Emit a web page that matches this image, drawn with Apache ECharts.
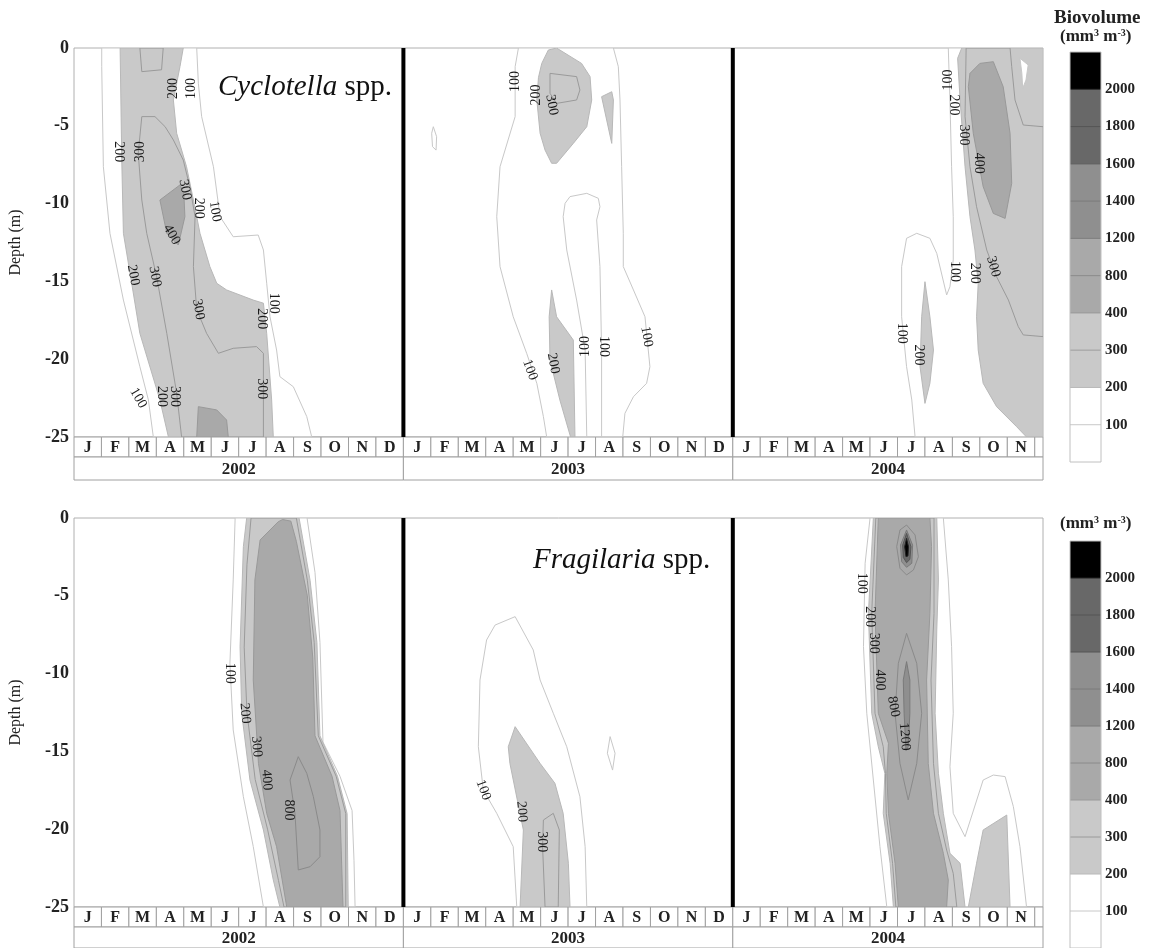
<!DOCTYPE html>
<html>
<head>
<meta charset="utf-8">
<script src="https://cdn.jsdelivr.net/npm/echarts@6/dist/echarts.min.js"></script>
<style>
  html, body { margin: 0; padding: 0; background: #fff; }
  #chart { width: 1153px; height: 948px; }
</style>
</head>
<body>
<div id="chart"></div>
<script>
// x = months since Jan 2002, y = depth (m)
const MONTHS = ['J', 'F', 'M', 'A', 'M', 'J', 'J', 'A', 'S', 'O', 'N', 'D'];
const YEARS = ['2002', '2003', '2004'];
const X_MAX = 35.3;
const YEAR_BREAKS = [12, 24];
const LEGEND_TICKS = [100, 200, 300, 400, 800, 1200, 1400, 1600, 1800, 2000];

// ---- Cyclotella spp. contours ----
const cyc02_100 = [[1.01, 0], [1.01, -1.2], [1.07, -7.63], [1.31, -11.91], [1.8, -16.2], [2.4, -20.48], [2.71, -22.62], [2.89, -25],
  [8.66, -25], [8.48, -23.69], [7.99, -21.77], [7.5, -21.12], [7.38, -19.41], [7.14, -17.27], [7.02, -15.12], [6.9, -12.98],
  [6.71, -12.02], [5.8, -12.13], [5.32, -10.84], [5.08, -7.63], [4.65, -4.41], [4.53, -2.27], [4.47, 0]];
const cyc02_200 = [[1.68, 0], [1.74, -7.2], [1.8, -11.91], [2.1, -15.1], [2.4, -18.34], [3.13, -22.62], [3.44, -25],
  [7.26, -25], [7.2, -22.62], [7.02, -18.34], [6.9, -16.4], [6.53, -16.2], [5.56, -15.55], [5.2, -15.12], [4.95, -14.05],
  [4.59, -11.91], [4.35, -9.77], [4.1, -7.63], [3.74, -5.48], [3.62, -3.34], [3.86, -1.2], [3.98, 0]];
const cyc02_300a = [[2.4, 0], [2.47, -1.52], [3.19, -1.4], [3.25, 0]];
const cyc02_300b = [[2.47, -4.41], [2.34, -6.77], [2.47, -9.77], [2.65, -11.91], [3.01, -14.7], [3.38, -18.34], [3.74, -22.19], [3.92, -25],
  [6.9, -25], [6.9, -19.62], [6.65, -19.19], [5.8, -19.3], [5.26, -19.62], [4.83, -18.34], [4.47, -16.8], [4.35, -14.05],
  [4.41, -10.84], [4.23, -9.0], [3.98, -7.2], [3.62, -5.91], [3.32, -5.06], [2.95, -4.41]];
const cyc02_400a = [[3.86, -8.8], [3.13, -9.77], [3.38, -11.91], [3.8, -12.66], [4.04, -10.84], [4.0, -9.3]];
const cyc02_400b = [[4.53, -23.05], [5.2, -23.26], [5.56, -23.91], [5.62, -25], [4.47, -25]];

const cyc03_100 = [[16.19, 0], [16.07, -1.2], [16.07, -4.41], [15.52, -7.63], [15.4, -10.84], [15.52, -14.05], [16.0, -17.27],
  [16.49, -19.62], [16.86, -21.55], [17.1, -23.69], [17.22, -25],
  [19.99, -25], [20.07, -23.48], [20.38, -22.41], [20.86, -21.55], [20.98, -20.48], [20.8, -17.27], [20.38, -15.55],
  [20.01, -14.05], [20.01, -11.91], [19.95, -7.63], [19.89, -3.34], [19.83, -1.2], [19.65, 0]];
const cyc03_hole = [[18.07, -9.55], [18.68, -9.34], [19.1, -9.66], [19.16, -10.2], [19.04, -11.05], [19.16, -14.05], [19.22, -19.41],
  [19.22, -25], [18.68, -25], [18.62, -19.41], [18.31, -16.2], [17.95, -12.98], [17.82, -10.84], [17.89, -9.98]];
const cyc03_loop = [[13.09, -5.06], [13.21, -5.7], [13.19, -6.56], [13.06, -6.34], [13.03, -5.48]];
const cyc03_200a = [[17.04, -0.99], [17.28, -0.13], [17.58, 0], [18.49, -0.99], [18.8, -1.84], [18.86, -3.34], [18.68, -5.06],
  [18.19, -6.13], [17.58, -7.41], [17.4, -7.41], [17.16, -6.56], [16.98, -5.48], [16.86, -3.34], [16.92, -1.9]];
const cyc03_300 = [[17.34, -1.63], [18.31, -1.84], [18.43, -2.7], [18.31, -3.34], [17.58, -3.56], [17.34, -2.91]];
const cyc03_200b = [[19.22, -3.13], [19.59, -2.81], [19.65, -3.34], [19.59, -6.13]];
const cyc03_200c = [[17.4, -15.55], [17.58, -17.27], [18.19, -18.77], [18.25, -25], [18.09, -25], [17.7, -22.62], [17.34, -20.05], [17.31, -17.27]];

const cyc04_100 = [[31.85, 0], [31.91, -3.34], [31.97, -7.63], [32.03, -10.84], [32.03, -13.62], [31.91, -15.34], [31.79, -15.87],
  [31.43, -13.2], [31.18, -12.23], [30.7, -11.91], [30.33, -12.23], [30.15, -14.05], [30.15, -17.27], [30.33, -20.48],
  [30.52, -22.62], [30.64, -25], [35.31, -25], [35.31, 0]];
const cyc04_200 = [[32.34, 0], [32.19, -0.66], [32.28, -3.34], [32.46, -7.63], [32.64, -10.84], [32.82, -12.98], [32.94, -15.12],
  [32.88, -17.27], [32.94, -19.41], [33.12, -21.55], [33.61, -23.05], [34.34, -24.34], [34.7, -25], [35.31, -25], [35.31, 0]];
const cyc04_hole = [[34.46, -0.66], [34.76, -1.09], [34.68, -2.06], [34.56, -2.59], [34.53, -1.63]];
const cyc04_300 = [[32.5, 0], [32.46, -4.41], [32.64, -7.63], [32.88, -10.2], [33.25, -12.98], [33.61, -14.7], [34.04, -16.2],
  [34.4, -17.91], [34.58, -18.44], [35.31, -18.55], [35.31, -5.06], [34.58, -4.95], [34.28, -3.34], [34.16, -1.2], [34.1, 0]];
const cyc04_400 = [[33.0, -0.99], [33.49, -0.88], [33.85, -2.49], [34.1, -5.48], [34.16, -8.7], [33.92, -10.95], [33.49, -10.63],
  [33.12, -8.91], [32.76, -5.48], [32.58, -2.49], [32.64, -1.63]];
const cyc04_200b = [[31.0, -15.02], [31.18, -17.27], [31.31, -19.41], [31.18, -21.55], [31.0, -22.84], [30.82, -20.48], [30.88, -17.27]];

// [month, depth, text, rotation in degrees (90 = reads downward)]
const cycLabels = [
  [3.62, -2.6, '200', -90], [4.29, -2.6, '100', -90], [1.62, -6.66, '200', 90], [2.4, -6.66, '300', -90],
  [4.04, -9.1, '300', 80], [4.53, -10.3, '200', 90], [5.14, -10.5, '100', 80], [3.56, -12.0, '400', 60],
  [2.16, -14.6, '200', 80], [2.95, -14.7, '300', 80], [4.53, -16.8, '300', 80], [7.26, -16.4, '100', 90],
  [6.84, -17.4, '200', 90], [6.84, -21.9, '300', 90], [2.34, -22.5, '100', 60], [3.19, -22.4, '200', 90], [3.68, -22.4, '300', 90],
  [16.07, -2.16, '100', -90], [16.86, -3.02, '200', -90], [17.4, -3.66, '300', 80], [16.61, -20.69, '100', 70],
  [17.46, -20.27, '200', 80], [18.62, -19.19, '100', -90], [19.28, -19.19, '100', 90], [20.86, -18.55, '100', 80],
  [31.85, -2.06, '100', -90], [32.03, -3.66, '200', 90], [32.4, -5.59, '300', 90], [32.94, -7.41, '400', 90],
  [32.1, -14.37, '100', 90], [32.82, -14.48, '200', 90], [33.49, -14.05, '300', 75], [30.15, -18.34, '100', 90], [30.76, -19.73, '200', 90]
];

// ---- Fragilaria spp. contours ----
const frg02_100 = [[5.87, 0], [5.8, -3.98], [5.68, -9.34], [5.8, -13.62], [6.17, -17.91], [6.53, -21.12], [6.9, -25],
  [10.24, -25], [10.2, -22], [10.13, -18.8], [9.69, -16.6], [9.07, -14.4], [8.96, -8], [8.78, -3.5], [8.49, 0]];
const frg02_200 = [[6.29, 0], [6.17, -1.84], [6.05, -8.27], [6.11, -12.55], [6.41, -16.84], [6.9, -20.05], [7.26, -23.26], [7.5, -25],
  [9.99, -25], [9.95, -19], [9.6, -16.6], [8.96, -14], [8.85, -8], [8.6, -4], [8.2, 0]];
const frg02_300 = [[6.45, 0], [6.3, -3], [6.2, -8.3], [6.3, -12.5], [6.6, -16.8], [7.05, -20], [7.45, -23.3], [7.65, -25],
  [9.9, -25], [9.9, -19], [9.55, -16.6], [8.9, -14], [8.75, -8], [8.5, -4], [8.1, 0]];
const frg02_400 = [[7.44, -0.24], [7.6, -0.1], [7.9, -0.2], [8.1, -1.5], [8.5, -5], [8.7, -9], [8.78, -14], [9.4, -16.6], [9.69, -18.8],
  [9.8, -25], [7.75, -25], [7.38, -21.12], [7.02, -18.98], [6.72, -15.77], [6.53, -10.41], [6.59, -3.98], [6.78, -1.41]];
const frg02_800 = [[8.17, -15.34], [8.48, -16.41], [8.72, -17.91], [8.96, -20.05], [8.96, -21.77], [8.6, -22.41], [8.17, -22.62],
  [8.05, -18.98], [7.87, -16.84]];

const frg03_100 = [[15.34, -6.88], [16.07, -6.34], [16.73, -8.48], [16.98, -10.41], [17.46, -12.55], [17.95, -14.7], [18.43, -17.91],
  [18.62, -21.12], [18.68, -25], [16.13, -25], [16.0, -21.12], [15.4, -18.98], [14.91, -17.48], [14.73, -14.7], [14.79, -10.41], [15.03, -7.84]];
const frg03_200 = [[16.07, -13.41], [16.98, -15.77], [17.52, -17.05], [17.82, -18.98], [18.01, -22.19], [18.07, -25], [16.25, -25],
  [16.37, -20.05], [15.88, -15.77], [15.82, -14.7]];
const frg03_300 = [[17.1, -19.41], [17.46, -18.98], [17.68, -20.05], [17.64, -25], [17.16, -25], [17.07, -21.12]];
const frg03_loop = [[19.53, -14.05], [19.71, -15.12], [19.62, -16.2], [19.43, -15.12]];

const frg04_100 = [[29.0, 0], [28.82, -2.91], [28.76, -8.27], [28.88, -12.55], [29.12, -16.84], [29.36, -21.12], [29.61, -25],
  [34.7, -25], [34.46, -21.12], [34.22, -18.55], [33.92, -16.62], [33.49, -16.52], [33.12, -16.84], [32.46, -20.48],
  [32.03, -18.98], [31.91, -15.98], [32.03, -12.55], [31.97, -8.27], [31.85, -3.98], [31.67, 0]];
const frg04_200 = [[29.12, 0], [28.94, -6.13], [29.06, -12.55], [29.3, -14.7], [29.54, -16.41], [29.48, -18.98], [29.73, -22.19], [29.85, -25],
  [32.46, -25], [32.28, -22.19], [31.91, -21.55], [31.67, -18.98], [31.49, -16.41], [31.37, -12.55], [31.43, -7.2], [31.49, -3.98], [31.43, 0]];
const frg04_200b = [[33.12, -20.05], [33.98, -19.09], [34.1, -25], [32.58, -25], [32.88, -22.19]];
const frg04_300 = [[29.21, 0], [29.06, -6.13], [29.18, -12.55], [29.48, -14.7], [29.56, -16.41], [29.59, -18.98], [29.82, -22.19], [29.94, -25],
  [32.16, -25], [32.03, -22.84], [31.79, -21.34], [31.49, -18.98], [31.31, -15.77], [31.22, -10.41], [31.33, -6.13], [31.33, 0]];
const frg04_400 = [[29.3, 0], [29.18, -6.13], [29.3, -12.55], [29.67, -14.48], [29.61, -16.41], [29.67, -18.98], [29.91, -22.19], [30.03, -25],
  [31.79, -25], [31.85, -23.26], [31.67, -21.55], [31.31, -18.98], [31.12, -15.77], [31.06, -10.41], [31.18, -6.13], [31.24, -1.84], [31.18, 0]];
const frg04_800a = [[30.33, -0.45], [30.64, -1.09], [30.76, -2.49], [30.58, -3.34], [30.33, -3.66], [30.09, -3.23], [29.97, -1.84], [30.09, -0.77]];
const frg04_1200a = [[30.33, -0.77], [30.55, -1.74], [30.52, -2.91], [30.33, -3.17], [30.15, -2.81], [30.11, -1.74]];
const frg04_1600 = [[30.33, -0.99], [30.49, -1.84], [30.45, -2.66], [30.33, -2.87], [30.21, -2.53], [30.19, -1.74]];
const frg04_2000 = [[30.33, -1.31], [30.4, -1.84], [30.38, -2.44], [30.31, -2.49], [30.26, -1.84]];
const frg04_800b = [[30.33, -7.41], [30.7, -9.34], [30.88, -12.55], [30.7, -15.77], [30.39, -18.12], [30.09, -15.77], [29.91, -12.55], [30.03, -9.34]];
const frg04_1200b = [[30.33, -9.23], [30.45, -10.41], [30.45, -12.55], [30.39, -14.7], [30.31, -14.95], [30.24, -12.55], [30.21, -10.41]];

const frgLabels = [
  [5.68, -9.98, '100', 90], [6.23, -12.55, '200', 85], [6.65, -14.7, '300', 85], [7.02, -16.84, '400', 85], [7.81, -18.77, '800', 90],
  [14.91, -17.48, '100', 70], [16.31, -18.87, '200', 85], [17.04, -20.8, '300', 90],
  [28.7, -4.2, '100', 90], [29.0, -6.34, '200', 90], [29.12, -8.05, '300', 90], [29.36, -10.41, '400', 90],
  [29.85, -12.13, '800', 80], [30.26, -14.05, '1200', 85]
];

// draw order, [level, polygon]
const CYC_CONTOURS = [
  [100, cyc02_100], [200, cyc02_200], [300, cyc02_300a], [300, cyc02_300b], [400, cyc02_400a], [400, cyc02_400b],
  [100, cyc03_100], [0, cyc03_hole], [100, cyc03_loop], [200, cyc03_200a], [300, cyc03_300], [200, cyc03_200b], [200, cyc03_200c],
  [100, cyc04_100], [200, cyc04_200], [100, cyc04_hole], [300, cyc04_300], [400, cyc04_400], [200, cyc04_200b]
];
const FRG_CONTOURS = [
  [100, frg02_100], [200, frg02_200], [300, frg02_300], [400, frg02_400], [800, frg02_800],
  [100, frg03_100], [200, frg03_200], [300, frg03_300], [100, frg03_loop],
  [100, frg04_100], [200, frg04_200], [200, frg04_200b], [300, frg04_300], [400, frg04_400],
  [800, frg04_800a], [1200, frg04_1200a], [1600, frg04_1600], [2000, frg04_2000], [800, frg04_800b], [1200, frg04_1200b]
];

const FILL = { 0: '#ffffff', 100: '#ffffff', 200: '#c9c9c9', 300: '#c9c9c9', 400: '#a9a9a9', 800: '#a9a9a9',
  1200: '#8f8f8f', 1400: '#8f8f8f', 1600: '#686868', 1800: '#686868', 2000: '#000000' };
const LINE = { 0: '#c8c8c8', 100: '#c8c8c8', 200: '#b8b8b8', 300: '#9a9a9a', 400: '#999999', 800: '#8a8a8a',
  1200: '#7a7a7a', 1400: '#7a7a7a', 1600: '#555555', 1800: '#555555', 2000: '#222222' };

const SERIF = '"Liberation Serif", "Times New Roman", serif';
const chart = echarts.init(document.getElementById('chart'));

const grids = [], xAxes = [], yAxes = [], series = [];

function addGrid(g, x, y) {
  grids.push(g);
  xAxes.push(Object.assign({ gridIndex: grids.length - 1, type: 'value', show: false }, x));
  yAxes.push(Object.assign({ gridIndex: grids.length - 1, type: 'value', show: false }, y));
  return grids.length - 1;
}

function contourSeries(g, list, lines) {
  return {
    type: 'custom', xAxisIndex: g, yAxisIndex: g, silent: true, clip: true, z: lines ? 3 : 2,
    data: list.map(c => c[1][0]),
    renderItem: function (params, api) {
      const c = list[params.dataIndex];
      const pts = c[1].map(p => api.coord(p));
      return {
        type: 'polygon',
        shape: { points: pts },
        style: lines ? { fill: null, stroke: LINE[c[0]], lineWidth: 1 } : { fill: FILL[c[0]], stroke: null }
      };
    }
  };
}

function labelSeries(g, labels) {
  return {
    type: 'custom', xAxisIndex: g, yAxisIndex: g, silent: true, z: 4,
    data: labels.map(l => [l[0], l[1]]),
    renderItem: function (params, api) {
      const l = labels[params.dataIndex];
      const p = api.coord([l[0], l[1]]);
      return {
        type: 'text', x: p[0], y: p[1], rotation: -l[3] * Math.PI / 180,
        style: { text: l[2], font: '14px ' + SERIF, fill: '#1a1a1a', align: 'center', verticalAlign: 'middle' }
      };
    }
  };
}

function cellSeries(g, cells, font) {
  return {
    type: 'custom', xAxisIndex: g, yAxisIndex: g, silent: true,
    data: cells.map(c => [c[0], 0]),
    renderItem: function (params, api) {
      const c = cells[params.dataIndex];
      const a = api.coord([c[0], 1]), b = api.coord([c[1], 0]);
      return {
        type: 'group', children: [
          { type: 'rect', shape: { x: a[0], y: a[1], width: b[0] - a[0], height: b[1] - a[1] },
            style: { fill: '#fff', stroke: '#a0a0a0', lineWidth: 1 } },
          { type: 'text', x: (a[0] + b[0]) / 2, y: (a[1] + b[1]) / 2 + 1,
            style: { text: c[2], font: font, fill: '#222', align: 'center', verticalAlign: 'middle' } }
        ]
      };
    }
  };
}

const monthCells = [];
YEARS.forEach((yr, yi) => {
  MONTHS.forEach((m, k) => {
    const s = yi * 12 + k;
    if (s + 1 <= X_MAX) monthCells.push([s, s + 1, m]);
    else if (s < X_MAX) monthCells.push([s, X_MAX, '']);
  });
});
const yearCells = YEARS.map((yr, yi) => [yi * 12, Math.min(yi * 12 + 12, X_MAX), yr]);

function addPanel(top, contours, labels, legendTop) {
  const g = addGrid(
    { left: 74, top: top, width: 969, height: 389, show: true, borderColor: '#b0b0b0', borderWidth: 1, backgroundColor: '#fff' },
    { min: 0, max: X_MAX },
    {
      show: true, min: -25, max: 0, interval: 5, name: 'Depth (m)', nameLocation: 'middle', nameGap: 50,
      nameTextStyle: { fontFamily: SERIF, fontSize: 16, color: '#222' },
      axisLine: { show: false }, axisTick: { show: false }, splitLine: { show: false },
      axisLabel: { fontFamily: SERIF, fontWeight: 'bold', fontSize: 18, color: '#222', margin: 5 }
    });
  series.push(contourSeries(g, contours, false));
  series.push(contourSeries(g, contours, true));
  series.push(labelSeries(g, labels));
  series.push({
    type: 'custom', xAxisIndex: g, yAxisIndex: g, silent: true, z: 5,
    data: YEAR_BREAKS.map(v => [v, 0]),
    renderItem: function (params, api) {
      const a = api.coord([api.value(0), 0]), b = api.coord([api.value(0), -25]);
      return { type: 'line', shape: { x1: a[0], y1: a[1], x2: b[0], y2: b[1] }, style: { stroke: '#000', lineWidth: 4 } };
    }
  });

  const gm = addGrid({ left: 74, top: top + 389, width: 969, height: 20 }, { min: 0, max: X_MAX }, { min: 0, max: 1 });
  series.push(cellSeries(gm, monthCells, 'bold 16px ' + SERIF));
  const gy = addGrid({ left: 74, top: top + 409, width: 969, height: 23 }, { min: 0, max: X_MAX }, { min: 0, max: 1 });
  series.push(cellSeries(gy, yearCells, 'bold 17px ' + SERIF));

  // colour key
  const gl = addGrid({ left: 1070, top: legendTop, width: 31, height: 410 }, { min: 0, max: 1 }, {
    show: true, position: 'right', min: 0, max: 11, interval: 1,
    axisLine: { show: false }, axisTick: { show: false }, splitLine: { show: false },
    axisLabel: {
      margin: 4, fontFamily: SERIF, fontWeight: 'bold', fontSize: 15, color: '#222',
      formatter: v => (v >= 1 && v <= LEGEND_TICKS.length ? String(LEGEND_TICKS[v - 1]) : '')
    }
  });
  const levels = [0].concat(LEGEND_TICKS);
  series.push({
    type: 'custom', xAxisIndex: gl, yAxisIndex: gl, silent: true,
    data: levels.map((lv, j) => [0, j]),
    renderItem: function (params, api) {
      const j = params.dataIndex, lv = levels[j];
      const a = api.coord([0, j + 1]), b = api.coord([1, j]);
      const kids = [{ type: 'rect', shape: { x: a[0], y: a[1], width: b[0] - a[0], height: b[1] - a[1] }, style: { fill: FILL[lv] } }];
      if (j > 0) kids.push({ type: 'line', shape: { x1: a[0], y1: b[1], x2: b[0], y2: b[1] }, style: { stroke: LINE[lv], lineWidth: 1 } });
      if (j === 0) {
        const t = api.coord([0, 11]);
        kids.push({ type: 'rect', shape: { x: t[0], y: t[1], width: b[0] - t[0], height: b[1] - t[1] },
          style: { fill: null, stroke: '#c0c0c0', lineWidth: 1 }, z2: 10 });
      }
      return { type: 'group', children: kids };
    }
  });
}

addPanel(48, CYC_CONTOURS, cycLabels, 52);
addPanel(518, FRG_CONTOURS, frgLabels, 541);

const unitRich = {
  n: { font: 'bold 17px ' + SERIF, fill: '#222' },
  s: { font: 'bold 10px ' + SERIF, fill: '#222', verticalAlign: 'top', lineHeight: 10 }
};

chart.setOption({
  animation: false,
  backgroundColor: '#fff',
  grid: grids,
  xAxis: xAxes,
  yAxis: yAxes,
  series: series,
  graphic: [
    { type: 'text', left: 218, top: 73, z: 10,
      style: { text: '{i|Cyclotella} spp.', font: '29px ' + SERIF, fill: '#111',
        rich: { i: { font: 'italic 29px ' + SERIF, fill: '#111' } } } },
    { type: 'text', left: 533, top: 546, z: 10,
      style: { text: '{i|Fragilaria} spp.', font: '29px ' + SERIF, fill: '#111',
        rich: { i: { font: 'italic 29px ' + SERIF, fill: '#111' } } } },
    { type: 'text', left: 1054, top: 9, style: { text: 'Biovolume', font: 'bold 19px ' + SERIF, fill: '#222' } },
    { type: 'text', left: 1060, top: 28, style: { text: '{n|(mm}{s|3}{n| m}{s|-3}{n|)}', rich: unitRich } },
    { type: 'text', left: 1060, top: 515, style: { text: '{n|(mm}{s|3}{n| m}{s|-3}{n|)}', rich: unitRich } }
  ]
});
</script>
</body>
</html>
